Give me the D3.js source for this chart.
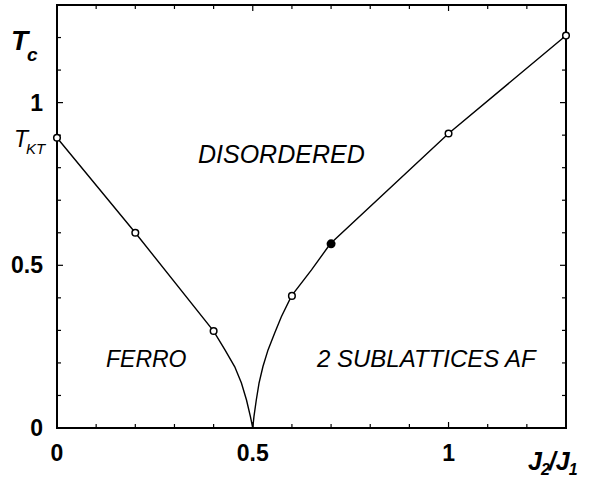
<!DOCTYPE html>
<html>
<head>
<meta charset="utf-8">
<script src="https://cdn.jsdelivr.net/npm/d3@7"></script>
<style>
  body { margin: 0; background: #fff; }
  text { font-family: "Liberation Sans", Arial, sans-serif; fill: #000; }
</style>
</head>
<body>
<div id="chart"></div>
<script>
// phase boundary, left branch (ferro -> disordered)
var ferroJ = [0, 0.2, 0.4, 0.429, 0.454, 0.471, 0.484, 0.494, 0.5];
var ferroT = [0.892, 0.6, 0.298, 0.24, 0.188, 0.138, 0.086, 0.035, 0];
// right branch (2 sublattices AF -> disordered)
var afJ = [0.5, 0.503, 0.509, 0.516, 0.526, 0.539, 0.556, 0.573, 0.599, 0.65, 0.698, 1.0, 1.3];
var afT = [0, 0.035, 0.086, 0.138, 0.189, 0.24, 0.292, 0.342, 0.406, 0.486, 0.566, 0.905, 1.206];
// computed points
var openJ = [0, 0.2, 0.4, 0.6, 1.0, 1.3];
var openT = [0.892, 0.6, 0.298, 0.406, 0.905, 1.206];
var fullJ = [0.7];
var fullT = [0.566];
var tickVals = [0, 0.5, 1];
var tickLabels = ["0", "0.5", "1"];

var W = 589, H = 478;
var m = {left: 57, right: 23, top: 5, bottom: 50};
var svg = d3.select("#chart").append("svg").attr("width", W).attr("height", H);

var x = d3.scaleLinear().domain([0, 1.3]).range([m.left, W - m.right]);
var y = d3.scaleLinear().domain([0, 1.3]).range([H - m.bottom, m.top]);

var minor = d3.range(0, 1.31, 0.1).map(function(d){ return Math.round(d*10)/10; });
function isMajor(d){ return tickVals.indexOf(d) >= 0; }

// inward ticks on all four sides
var g = svg.append("g").attr("stroke", "#000").attr("stroke-width", 1.2);
minor.forEach(function(d){
  var L = isMajor(d) ? 6 : 4;
  g.append("line").attr("x1", x(d)).attr("x2", x(d)).attr("y1", y(0)).attr("y2", y(0) - L);
  g.append("line").attr("x1", x(d)).attr("x2", x(d)).attr("y1", y(1.3)).attr("y2", y(1.3) + L);
  g.append("line").attr("y1", y(d)).attr("y2", y(d)).attr("x1", x(0)).attr("x2", x(0) + L);
  g.append("line").attr("y1", y(d)).attr("y2", y(d)).attr("x1", x(1.3)).attr("x2", x(1.3) - L);
});

svg.append("rect")
  .attr("x", x(0)).attr("y", y(1.3))
  .attr("width", x(1.3) - x(0)).attr("height", y(0) - y(1.3))
  .attr("fill", "none").attr("stroke", "#000").attr("stroke-width", 2);

// tick labels
svg.selectAll(".xl").data(tickVals).enter().append("text")
  .attr("x", function(d){ return x(d); }).attr("y", y(0) + 33)
  .attr("text-anchor", "middle").attr("font-size", 23).attr("font-weight", "bold")
  .text(function(d, i){ return tickLabels[i]; });
svg.selectAll(".yl").data(tickVals).enter().append("text")
  .attr("x", 43).attr("y", function(d){ return y(d) + 8; })
  .attr("text-anchor", "end").attr("font-size", 23).attr("font-weight", "bold")
  .text(function(d, i){ return tickLabels[i]; });

// curves
var line = d3.line().x(function(d){ return x(d[0]); }).y(function(d){ return y(d[1]); });
var left = ferroJ.map(function(d, i){ return [d, ferroT[i]]; });
var right = afJ.map(function(d, i){ return [d, afT[i]]; });
[left, right].forEach(function(pts){
  svg.append("path").attr("d", line(pts)).attr("fill", "none")
    .attr("stroke", "#000").attr("stroke-width", 1.4);
});

svg.selectAll(".op").data(openJ).enter().append("circle")
  .attr("cx", function(d){ return x(d); }).attr("cy", function(d, i){ return y(openT[i]); })
  .attr("r", 3.3).attr("fill", "#fff").attr("stroke", "#000").attr("stroke-width", 1.5);
svg.selectAll(".fp").data(fullJ).enter().append("circle")
  .attr("cx", function(d){ return x(d); }).attr("cy", function(d, i){ return y(fullT[i]); })
  .attr("r", 4.5).attr("fill", "#000");

// region labels
function label(txt, px, py, fs){
  svg.append("text").attr("x", px).attr("y", py).attr("font-size", fs)
    .attr("font-style", "italic").text(txt);
}
label("DISORDERED", 198, 163, 25);
label("FERRO", 106, 367, 23);
label("2 SUBLATTICES AF", 317, 367, 24);

// axis titles
var tc = svg.append("text").attr("x", 11).attr("y", 50).attr("font-size", 28)
  .attr("font-weight", "bold").attr("font-style", "italic");
tc.append("tspan").text("T");
tc.append("tspan").attr("dy", 11).attr("dx", -1).attr("font-size", 19).text("c");

var tk = svg.append("text").attr("x", 14).attr("y", 147).attr("font-size", 23)
  .attr("font-style", "italic");
tk.append("tspan").text("T");
tk.append("tspan").attr("dy", 7).attr("dx", -2).attr("font-size", 15).text("KT");

var jj = svg.append("text").attr("x", 528).attr("y", 470).attr("font-size", 25)
  .attr("font-weight", "bold").attr("font-style", "italic");
jj.append("tspan").text("J");
jj.append("tspan").attr("dy", 5).attr("dx", -1).attr("font-size", 16).text("2");
jj.append("tspan").attr("dy", -5).attr("dx", -1).text("/J");
jj.append("tspan").attr("dy", 5).attr("dx", -1).attr("font-size", 16).text("1");
</script>
</body>
</html>
